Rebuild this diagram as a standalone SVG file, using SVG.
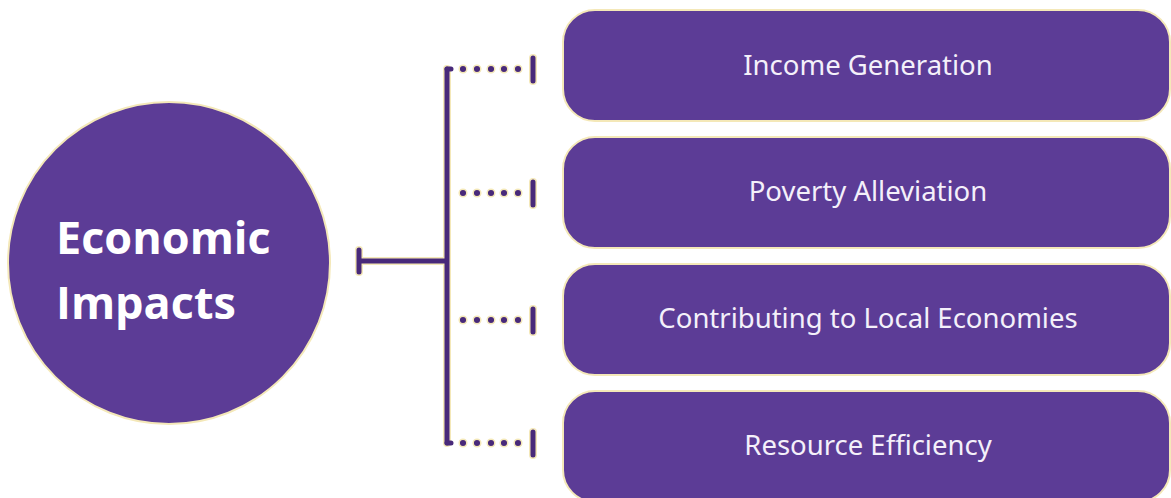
<svg xmlns="http://www.w3.org/2000/svg" width="1171" height="498" viewBox="0 0 1171 498">
<style>
.box{fill:#5c3c96;stroke:#f4e8b8;stroke-width:2}
.lbl{font-family:"Noto Sans","DejaVu Sans",sans-serif;font-size:27.5px;fill:#f4f0fa;text-anchor:middle}
.halo{stroke:#f4e8b8;fill:none;stroke-linecap:round}
.ln{stroke:#48297a;fill:none;stroke-linecap:round}
.dot{fill:#48297a;stroke:#f4e8b8;stroke-width:1.5}
</style>
<rect width="1171" height="498" fill="#ffffff"/>
<g id="connectors">
  <path class="halo" stroke-width="8" d="M447 69 V443 M359 261 H447 M359 250 V272 M533 58 V81 M533 182 V205 M533 309 V332 M533 432 V455"/>
  <path class="ln" stroke-width="5" d="M447 69 V443 M359 261 H447 M359 250 V272 M533 58 V81 M533 182 V205 M533 309 V332 M533 432 V455"/>
  <g id="dots">
    <circle class="dot" cx="463" cy="69" r="3.8"/><circle class="dot" cx="477" cy="69" r="3.8"/><circle class="dot" cx="491" cy="69" r="3.8"/><circle class="dot" cx="504" cy="69" r="3.8"/><circle class="dot" cx="518" cy="69" r="3.8"/>
    <circle class="dot" cx="463" cy="193" r="3.8"/><circle class="dot" cx="477" cy="193" r="3.8"/><circle class="dot" cx="491" cy="193" r="3.8"/><circle class="dot" cx="504" cy="193" r="3.8"/><circle class="dot" cx="518" cy="193" r="3.8"/>
    <circle class="dot" cx="463" cy="320" r="3.8"/><circle class="dot" cx="477" cy="320" r="3.8"/><circle class="dot" cx="491" cy="320" r="3.8"/><circle class="dot" cx="504" cy="320" r="3.8"/><circle class="dot" cx="518" cy="320" r="3.8"/>
    <circle class="dot" cx="463" cy="443" r="3.8"/><circle class="dot" cx="477" cy="443" r="3.8"/><circle class="dot" cx="491" cy="443" r="3.8"/><circle class="dot" cx="504" cy="443" r="3.8"/><circle class="dot" cx="518" cy="443" r="3.8"/>
  </g>
  <path class="ln" stroke-width="5" d="M447 69 H451 M447 443 H451"/>
</g>
<g id="center">
  <circle cx="169" cy="263" r="161" fill="#5c3c96" stroke="#f4e8b8" stroke-width="2"/>
  <text font-family="'Open Sans','Noto Sans',sans-serif" font-weight="700" font-size="45" fill="#ffffff">
    <tspan x="56" y="254">Economic</tspan>
    <tspan x="56" y="319">Impacts</tspan>
  </text>
</g>
<g id="n1">
  <rect class="box" x="563" y="10" width="607" height="111" rx="32"/>
  <text class="lbl" x="868" y="75">Income Generation</text>
</g>
<g id="n2">
  <rect class="box" x="563" y="137" width="607" height="111" rx="32"/>
  <text class="lbl" x="868" y="201">Poverty Alleviation</text>
</g>
<g id="n3">
  <rect class="box" x="563" y="264" width="607" height="111" rx="32"/>
  <text class="lbl" x="868" y="328">Contributing to Local Economies</text>
</g>
<g id="n4">
  <rect class="box" x="563" y="391" width="607" height="111" rx="32"/>
  <text class="lbl" x="868" y="455">Resource Efficiency</text>
</g>
</svg>
